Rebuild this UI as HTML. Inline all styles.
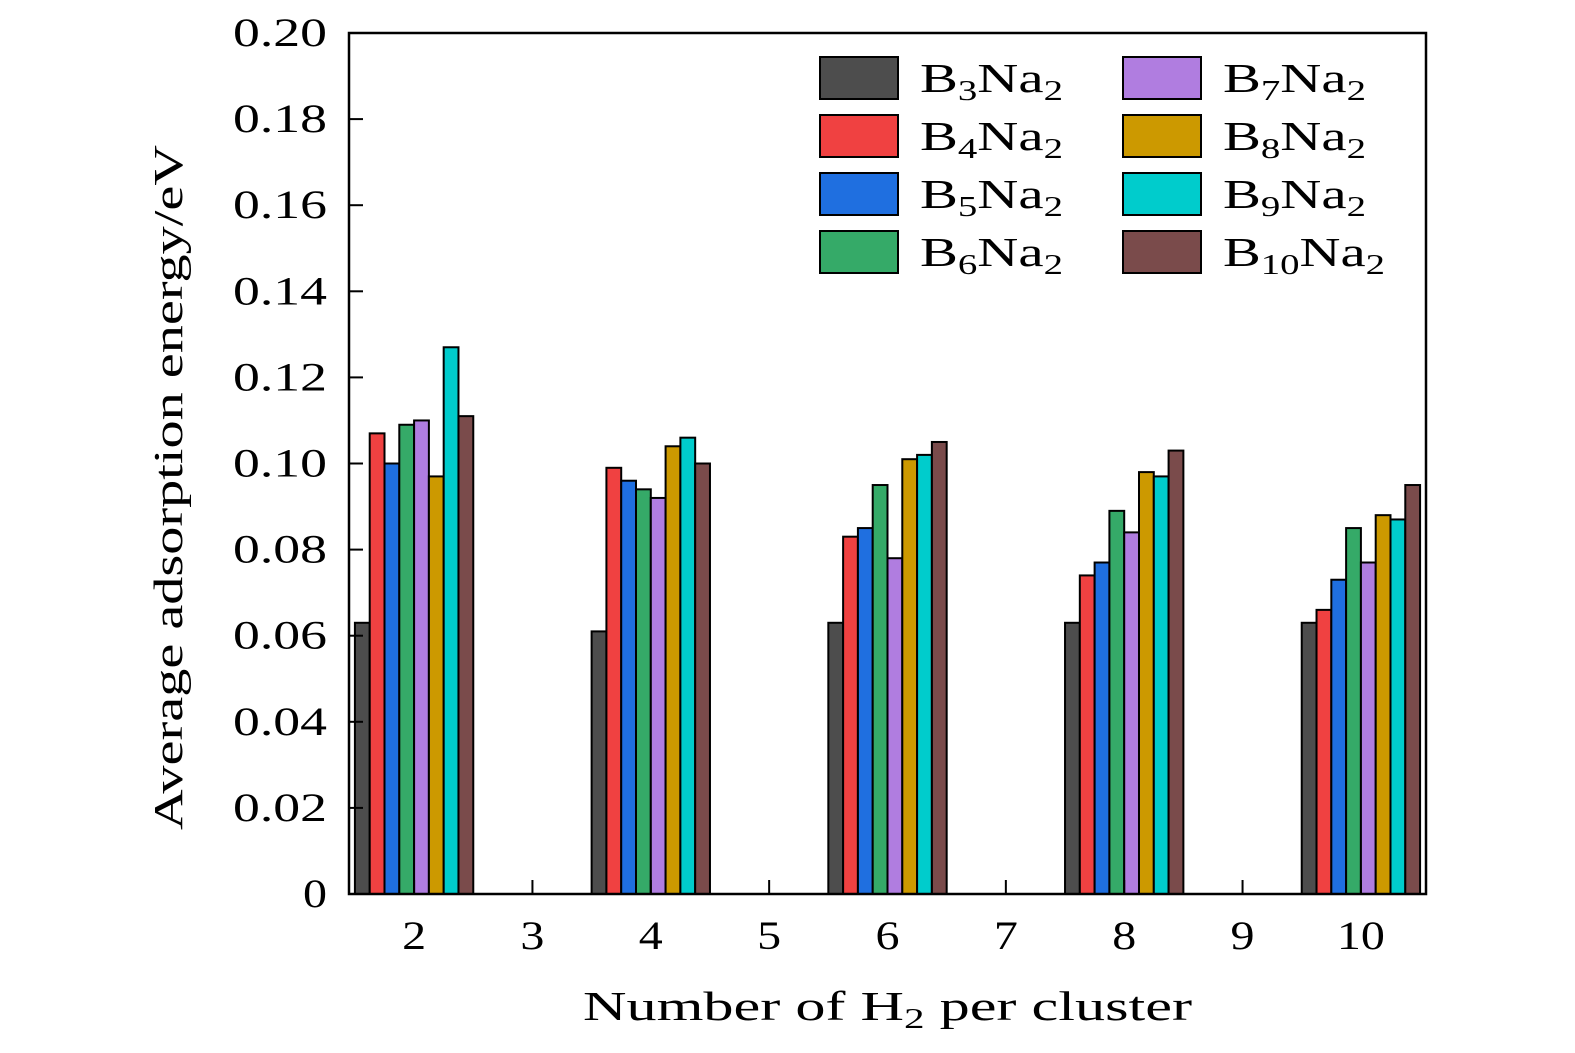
<!DOCTYPE html>
<html><head><meta charset="utf-8"><style>
html,body{margin:0;padding:0;background:#fff;}
svg{display:block;font-family:"Liberation Serif",serif;}
</style></head><body>
<svg id="chart" width="1575" height="1053" viewBox="0 0 1575 1053" xmlns="http://www.w3.org/2000/svg"></svg>
<script>
const categories = [2, 4, 6, 8, 10];
const seriesNames = ["3","4","5","6","7","8","9","10"];
const seriesColors = ["#4d4d4d","#f04141","#1f6fe0","#35aa68","#b07de0","#cc9900","#00cccc","#7a4b4b"];
const b3 = [0.063,0.061,0.063,0.063,0.063];
const b4 = [0.107,0.099,0.083,0.074,0.066];
const b5 = [0.100,0.096,0.085,0.077,0.073];
const b6 = [0.109,0.094,0.095,0.089,0.085];
const b7 = [0.110,0.092,0.078,0.084,0.077];
const b8 = [0.097,0.104,0.101,0.098,0.088];
const b9 = [0.127,0.106,0.102,0.097,0.087];
const b10 = [0.111,0.100,0.105,0.103,0.095];
const series = [b3,b4,b5,b6,b7,b8,b9,b10];
const yTicks = [0,0.02,0.04,0.06,0.08,0.10,0.12,0.14,0.16,0.18,0.20];
const yTickLabels = ["0","0.02","0.04","0.06","0.08","0.10","0.12","0.14","0.16","0.18","0.20"];
const xTicks = [2,3,4,5,6,7,8,9,10];

const NS="http://www.w3.org/2000/svg";
const svg=document.getElementById('chart');
const L=349,R=1426,T=33,B=894;
const xMin=1.45,xMax=10.55,yMin=0,yMax=0.2;
const xs=v=>L+(v-xMin)/(xMax-xMin)*(R-L);
const ys=v=>B-(v-yMin)/(yMax-yMin)*(B-T);
function el(tag,attrs,parent){const e=document.createElementNS(NS,tag);for(const k in attrs)e.setAttribute(k,attrs[k]);(parent||svg).appendChild(e);return e;}
function labW(s){let w=0;for(const ch of s)w+=(ch==='.')?22:24;return w;}

const barsG=el('g',{});


const groupW=1.0, bw=groupW/8;
categories.forEach((c,i)=>{
  series.forEach((s,j)=>{
    const x0=xs(c-groupW/2+j*bw), x1=xs(c-groupW/2+(j+1)*bw);
    const r=el('rect',{x:x0,y:ys(s[i]),width:x1-x0,height:ys(0)-ys(s[i]),fill:seriesColors[j],stroke:'#000','stroke-width':2},barsG);
    
    
  });
});

const frame=el('rect',{x:L,y:T,width:R-L,height:B-T,fill:'none',stroke:'#000','stroke-width':2.5});



yTicks.forEach((v,i)=>{
  el('line',{x1:L,x2:L+14,y1:ys(v),y2:ys(v),stroke:'#000','stroke-width':2});
  const t=el('text',{x:L-22,y:ys(v)+13,'text-anchor':'end','font-size':40,textLength:labW(yTickLabels[i]),lengthAdjust:'spacingAndGlyphs'});
  t.textContent=yTickLabels[i];
  
  
});
xTicks.forEach(v=>{
  el('line',{x1:xs(v),x2:xs(v),y1:B,y2:B-14,stroke:'#000','stroke-width':2});
  const t=el('text',{x:xs(v),y:B+55,'text-anchor':'middle','font-size':40,textLength:labW(String(v)),lengthAdjust:'spacingAndGlyphs'});
  t.textContent=v;
  
  
});

const xt=el('text',{x:583,y:1020,'font-size':41,textLength:609,lengthAdjust:'spacingAndGlyphs'});
xt.innerHTML='Number of H<tspan font-size="28" dy="8">2</tspan><tspan dy="-8"> per cluster</tspan>';


const yt=el('text',{x:-830,y:182,'font-size':41,textLength:685,lengthAdjust:'spacingAndGlyphs',transform:'rotate(-90)'});
yt.textContent='Average adsorption energy/eV';



const lg=el('g',{});


seriesNames.forEach((n,j)=>{
  const col=Math.floor(j/4), row=j%4;
  const bx=col?1123:820, cy=78+row*58;
  const g=el('g',{},lg);
  
  
  el('rect',{x:bx,y:cy-21,width:78,height:42,fill:seriesColors[j],stroke:'#000','stroke-width':2},g);
  const t=el('text',{x:bx+100,y:cy+14,'font-size':41,textLength:(n.length>1?162:143),lengthAdjust:'spacingAndGlyphs'},g);
  t.innerHTML='B<tspan font-size="28" dy="8">'+n+'</tspan><tspan dy="-8">Na</tspan><tspan font-size="28" dy="8">2</tspan>';
});
</script>
</body></html>
